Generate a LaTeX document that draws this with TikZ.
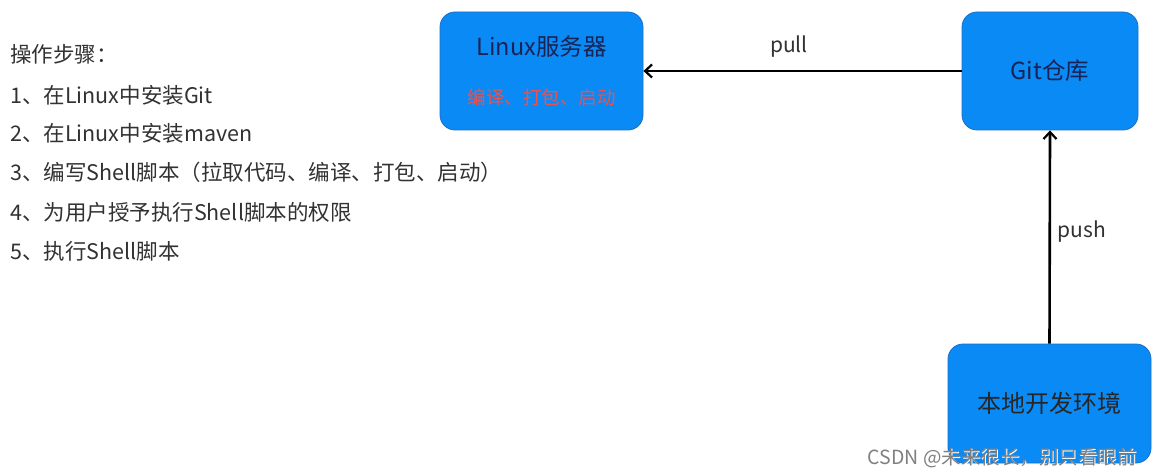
\documentclass[tikz,border=0pt]{standalone}
\usepackage{fontspec}
\setmainfont{Noto Sans CJK SC}
\usepackage{tikz}
\usetikzlibrary{arrows.meta}

\definecolor{boxblue}{RGB}{10,138,245}
\definecolor{boxedge}{RGB}{30,110,200}
\definecolor{navytext}{RGB}{25,35,85}
\definecolor{redtext}{RGB}{240,80,75}
\definecolor{steptext}{RGB}{50,50,50}

\tikzset{
  srvbox/.style={draw=boxedge,fill=boxblue,rounded corners=15pt,line width=0.8pt},
  steptxt/.style={anchor=west,inner sep=0pt,text=steptext,font=\fontsize{21.5}{25}\selectfont},
  arrowlbl/.style={text=steptext,font=\fontsize{21}{25}\selectfont},
  marktxt/.style={anchor=east,inner sep=0pt,font=\fontsize{19.5}{23}\selectfont},
  flow/.style={line width=2.6pt,-{Straight Barb[length=7pt,width=13pt,line width=2.2pt]}}
}

\begin{document}
\begin{tikzpicture}[x=1pt,y=-1pt]
\useasboundingbox[fill=white] (0,0) rectangle (1153,476);

% boxes
\node[srvbox,minimum width=203pt,minimum height=118pt] (linux) at (541.5,71) {};
\node[text=navytext,font=\fontsize{23.5}{27}\selectfont] (linuxname) at (541.5,47) {Linux服务器};
\node[text=redtext,font=\fontsize{18.5}{22}\selectfont] (linuxjob) at (541.5,97) {编译、打包、启动};

\node[srvbox,minimum width=176pt,minimum height=118pt,text=navytext,
      font=\fontsize{23.5}{27}\selectfont] (gitrepo) at (1050,71) {Git仓库};

\node[srvbox,minimum width=203pt,minimum height=119pt,text=black!85,
      font=\fontsize{24}{28}\selectfont] (localdev) at (1049.5,403.5) {本地开发环境};

% arrows
\draw[flow] (gitrepo.west) -- (linux.east);
\node[arrowlbl] (pulllbl) at (789,47) {pull};

\draw[flow] (localdev.north) -- (gitrepo.south);
\node[arrowlbl,anchor=west] (pushlbl) at (1054,232) {push};

% steps
\node[steptxt] (s0) at (10,54) {操作步骤：};
\node[steptxt] (s1) at (10,95) {1、在Linux中安装Git};
\node[steptxt] (s2) at (10,133) {2、在Linux中安装maven};
\node[steptxt] (s3) at (10,172) {3、编写Shell脚本（拉取代码、编译、打包、启动）};
\node[steptxt] (s4) at (10,212) {4、为用户授予执行Shell脚本的权限};
\node[steptxt] (s5) at (10,251) {5、执行Shell脚本};

% watermark
\node[marktxt,text=white] (markbg) at (1138,459) {CSDN @未来很长，别只看眼前};
\node[marktxt,text=black!50] (mark) at (1137,458) {CSDN @未来很长，别只看眼前};

\end{tikzpicture}
\end{document}
